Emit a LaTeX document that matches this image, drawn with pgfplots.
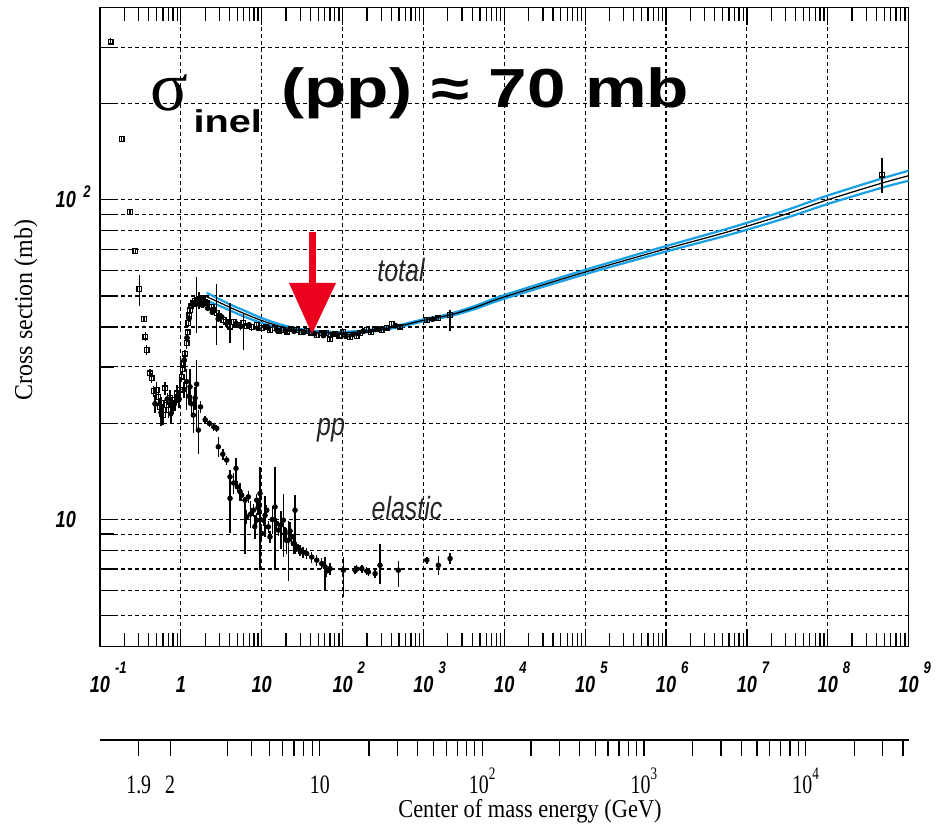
\documentclass[border=0pt]{standalone}
\usepackage{pgfplots}
\pgfplotsset{compat=1.18}
\usepackage{pgfplotstable}
\usepackage{fontspec}
\setmainfont{Liberation Serif}
\newfontfamily\hv[FakeStretch=0.78]{Liberation Sans}
\newfontfamily\hvt[FakeStretch=1.26]{Liberation Sans}
\newfontfamily\tm[FakeStretch=0.75]{Liberation Serif}
\newfontfamily\tmt[FakeStretch=0.87]{Liberation Serif}
\newfontfamily\tmy[FakeStretch=0.93]{Liberation Serif}
\definecolor{fitblue}{RGB}{25,160,230}
\definecolor{arrowred}{RGB}{235,0,30}
\newcommand\ticklabfont{\hv\bfseries\itshape\fontsize{9.3}{10}\selectfont}
\newcommand\xsup[1]{\rlap{\smash{\hspace{2pt}\raisebox{7.4pt}{\fontsize{6.7}{7}\selectfont #1}}}}
\newcommand\ysup[1]{\rlap{\smash{\hspace{3pt}\raisebox{4pt}{\fontsize{6.7}{7}\selectfont #1}}}}
\newcommand\tsup[1]{\smash{\raisebox{5.6pt}{\fontsize{7}{8}\selectfont #1}}}

% total cross section (p_lab in GeV/c, sigma in mb)
\pgfplotstableread{
x y ep em
0.1356 312.4 8 8
0.1845 154.7 3 3
0.2350 91.5 1.5 1.5
0.2733 69.2 1.2 1.2
0.3063 52.5 5.7 6.1
0.350 42.4 0.8 0.8
0.3634 37.3 1.2 1.2
0.378 33.9 1.2 1.2
0.4153 28.66 0.8 0.8
0.436 27.65 1.0 1.0
0.46 25.2 1.0 1.0
0.5029 25.4 1.5 1.5
0.526 24.2 1.2 1.2
0.55 22.4 1.5 1.5
0.580 23.1 1.0 1.0
0.60 21.2 1.5 1.5
0.637 25.7 1.2 1.2
0.66 22.8 1.0 1.0
0.700 22.0 1.2 1.2
0.73 24.0 1.5 1.5
0.770 23.1 1.0 1.0
0.80 22.3 1.0 1.0
0.846 23.6 1.0 1.0
0.89 24.8 1.5 1.5
0.930 24.2 1.2 1.2
0.97 25.5 2.0 2.0
1.025 27.96 1.0 1.0
1.05 29.5 1.0 1.0
1.072 30.8 1.0 1.0
1.12 33.0 1.0 1.0
1.181 35.6 1.5 1.5
1.21 38.5 1.0 1.0
1.236 41.1 1.0 1.0
1.27 43.5 1.0 1.0
1.298 45.2 1.0 1.0
1.35 46.6 1.0 1.0
1.426 47.5 1.0 1.0
1.50 48.3 1.0 1.0
1.570 48.6 8.7 10.2
1.65 47.9 1.0 1.0
1.72 48.8 1.0 1.0
1.811 49.2 1.0 1.0
1.90 47.8 1.0 1.0
2.0 48.0 1.5 1.5
2.087 47.5 1.0 1.0
2.25 46.2 1.0 1.0
2.40 46.3 1.0 1.0
2.55 45.1 1.0 1.0
2.776 44.2 10.4 9.0
3.0 43.2 1.0 1.0
3.35 42.1 1.0 1.0
3.6 41.6 1.5 1.5
4.055 40.1 7.5 4.5
4.5 41.4 1.0 1.0
5.0 40.7 1.0 1.0
5.92 41.1 3.1 7.2
6.5 40.3 1.0 1.0
7.5 40.0 1.0 1.0
8.65 40.6 1.0 1.0
10.0 39.7 0.8 0.8
11.2 40.1 0.8 0.8
12.66 39.2 0.8 0.8
14.5 39.6 0.8 0.8
16.5 39.0 0.8 0.8
18.5 39.2 0.8 0.8
20.5 38.7 0.8 0.8
23.0 39.3 0.8 0.8
27.1 39.2 0.8 0.8
31.0 38.6 0.8 0.8
36.0 38.9 0.8 0.8
41.0 38.4 0.6 0.6
47.9 37.8 0.8 0.8
55.0 38.2 0.6 0.6
62.0 38.3 0.6 0.6
70.0 36.6 0.8 0.8
80.0 38.0 0.6 0.6
90.0 37.6 0.6 0.6
102.2 38.7 0.8 0.8
123.6 37.2 0.8 0.8
149.6 37.5 0.8 0.8
164.3 38.3 0.8 0.8
199.0 39.2 0.8 0.8
225.0 38.6 0.8 0.8
252.0 39.4 0.8 0.8
305.0 39.2 0.8 0.8
350.0 39.8 0.6 0.6
405.0 40.9 0.8 0.8
513.0 40.1 0.6 0.6
1099 42.1 0.9 0.9
1529 42.6 0.9 0.9
2133 43.6 1.7 4.8
4.70e8 119.8 15.3 14.8
}\totaldata

% total cross section, filled markers
\pgfplotstableread{
x y ep em
0.48 23.0 1.5 1.5
0.57 21.6 2.0 2.0
0.68 23.8 1.0 1.0
0.75 21.4 1.5 1.5
0.83 23.0 1.0 1.0
0.95 23.8 1.5 1.5
1.10 31.5 1.0 1.0
1.19 37.0 1.0 1.0
1.26 42.5 1.0 1.0
1.40 47.0 1.0 1.0
1.55 47.2 1.0 1.0
1.68 48.5 3.0 3.0
1.85 46.8 1.0 1.0
2.15 45.8 1.0 1.0
2.45 44.5 1.0 1.0
2.9 42.4 1.0 1.0
3.2 43.0 1.0 1.0
3.9 41.5 1.0 1.0
4.8 40.9 1.0 1.0
5.5 40.2 1.0 1.0
7.0 40.6 1.0 1.0
9.0 39.6 0.8 0.8
12.0 39.8 0.8 0.8
15.5 39.1 0.8 0.8
19.5 38.9 0.8 0.8
25.0 38.8 0.8 0.8
33.0 38.5 0.6 0.6
45.0 38.1 0.6 0.6
58.0 37.6 0.6 0.6
75.0 37.9 0.6 0.6
110.0 37.4 0.8 0.8
135.0 37.9 0.8 0.8
180.0 38.8 0.8 0.8
280.0 39.4 0.8 0.8
450.0 40.4 0.6 0.6
1300 42.3 0.9 0.9
}\totalfill

% elastic cross section
\pgfplotstableread{
x y ep em
1.10 25.5 1.5 1.5
1.181 27.0 2.5 5.0
1.25 24.3 1.5 1.5
1.298 26.0 3.5 3.0
1.35 23.0 1.5 1.5
1.426 21.21 2.4 2.6
1.50 24.0 2.0 2.0
1.570 26.5 5.0 7.5
1.644 19.04 3.0 3.0
1.75 22.5 1.0 1.0
2.0 20.5 0.6 0.6
2.249 19.98 0.5 0.5
2.55 19.5 0.6 0.6
2.776 19.28 0.5 0.5
2.905 16.88 1.2 1.2
3.3 16.0 0.6 0.6
3.691 15.34 0.5 0.5
4.055 13.60 0.7 4.5
4.055 11.64 0.5 0.5
4.5 13.0 1.0 1.0
4.810 14.45 1.1 1.8
4.991 12.65 0.5 0.5
5.4 12.2 0.8 0.8
5.657 11.91 0.5 0.5
6.216 11.49 0.3 3.7
6.523 10.19 0.5 0.5
6.827 11.77 0.5 0.5
7.3 10.4 1.0 1.0
7.873 10.69 0.5 0.5
8.2 9.5 0.8 0.8
8.675 11.49 0.5 0.5
8.675 9.95 0.5 0.5
9.0 10.9 0.6 0.6
9.528 12.06 2.5 5.1
10.0 9.04 0.4 0.4
10.47 9.95 0.4 0.4
11.0 10.3 1.5 1.5
11.53 10.69 0.4 0.4
12.07 9.48 0.4 0.4
12.66 8.82 0.4 0.4
13.5 10.0 1.0 1.0
14.60 10.95 3.6 4.0
15.33 9.72 0.4 0.4
16.05 9.26 0.4 0.4
17.2 9.6 1.0 1.5
18.50 9.95 2.1 2.3
19.42 9.04 0.4 0.4
20.3 8.6 0.8 0.8
21.33 8.61 1.3 2.2
22.4 9.2 0.6 0.6
23.50 8.82 0.4 0.4
24.6 8.4 0.6 0.6
25.82 10.69 1.2 2.9
27.10 8.21 0.3 0.3
28.4 8.1 0.3 0.3
29.77 8.01 0.3 0.3
32.5 7.9 0.3 0.3
36.02 7.82 0.3 0.3
41.53 7.63 0.3 0.3
47.89 7.46 0.3 0.3
55.23 7.28 0.3 0.3
60.67 7.11 0.5 1.1
63.68 6.9 0.3 0.3
69.96 7.02 0.3 0.3
102.2 6.94 0.7 1.2
142.6 6.94 0.2 0.2
149.6 7.0 0.2 0.2
172.6 7.02 0.2 0.2
199.0 6.9 0.2 0.2
208.2 6.85 0.2 0.2
252.0 6.77 0.2 0.2
290.5 7.19 1.2 0.9
489.3 6.94 0.5 0.8
1099 7.46 0.2 0.2
1529 7.19 0.5 0.5
2133 7.55 0.3 0.3
}\elasticdata

% fit: central curve and its band
\pgfplotstableread{
x y
2.087 49.68
2.645 48.44
4.055 46.05
6.216 43.95
9.528 42.09
16.84 40.17
29.77 39.03
52.62 38.46
93.0 38.33
164.3 38.61
290.5 39.31
513.5 40.31
988.6 41.94
2133 43.63
4347 46.05
1.0e4 49.68
1.137e5 60.0
9.515e5 70.0
6.506e6 80.0
2.968e7 90.0
9.986e7 100.0
4.70e8 112.8
1e9 118.9
}\fitc
\pgfplotstableread{
x y
2.087 51.14
2.645 49.68
4.055 47.06
6.216 44.91
9.528 42.86
16.84 40.75
29.77 39.46
52.62 38.74
93.0 38.61
164.3 38.89
290.5 39.59
513.5 40.60
988.6 42.24
2133 44.01
4347 46.55
1.0e4 50.33
1.137e5 60.96
9.515e5 71.38
6.506e6 81.93
2.968e7 92.50
9.986e7 103.08
4.70e8 116.60
1e9 123.26
}\fitup
\pgfplotstableread{
x y
2.087 48.27
2.645 47.23
4.055 45.06
6.216 43.01
9.528 41.34
16.84 39.60
29.77 38.61
52.62 38.19
93.0 38.06
164.3 38.33
290.5 39.03
513.5 40.02
988.6 41.64
2133 43.25
4347 45.55
1.0e4 49.04
1.137e5 59.06
9.515e5 68.65
6.506e6 78.12
2.968e7 87.57
9.986e7 97.01
4.70e8 109.12
1e9 114.69
}\fitlo

\begin{document}
\begin{tikzpicture}
\begin{axis}[
  name=main, at={(0,0)}, anchor=south west,
  scale only axis, width=323.44pt, height=255.76pt,
  xmode=log, ymode=log,
  xmin=0.1, xmax=1e9, ymin=4, ymax=400,
  axis line style={line width=0.5pt},
  xtick={0.1,1,10,100,1e3,1e4,1e5,1e6,1e7,1e8,1e9},
  xticklabels={10\xsup{-1},1,10,10\xsup{2},10\xsup{3},10\xsup{4},10\xsup{5},10\xsup{6},10\xsup{7},10\xsup{8},10\xsup{9}},
  minor xtick={0.2,0.3,0.4,0.5,0.6,0.7,0.8,0.9,2,3,4,5,6,7,8,9,20,30,40,50,60,70,80,90,
    200,300,400,500,600,700,800,900,2e3,3e3,4e3,5e3,6e3,7e3,8e3,9e3,
    2e4,3e4,4e4,5e4,6e4,7e4,8e4,9e4,2e5,3e5,4e5,5e5,6e5,7e5,8e5,9e5,
    2e6,3e6,4e6,5e6,6e6,7e6,8e6,9e6,2e7,3e7,4e7,5e7,6e7,7e7,8e7,9e7,
    2e8,3e8,4e8,5e8,6e8,7e8,8e8,9e8},
  ytick={10,100},
  yticklabels={10,10\ysup{2}},
  minor ytick={5,6,7,8,9,20,30,40,50,60,70,80,90,200,300},
  ytick pos=left,
  tick align=inside,
  major tick length=7.2pt, minor tick length=5.6pt,
  tick style={black, line width=0.5pt},
  xmajorgrids=true, ymajorgrids=true, yminorgrids=true,
  grid style={black, line width=0.45pt, dash pattern=on 1.6pt off 1.2pt},
  minor grid style={black, line width=0.45pt, dash pattern=on 1.6pt off 1.2pt},
  xticklabel style={font=\ticklabfont, yshift=-8.2pt},
  yticklabel style={font=\ticklabfont, xshift=-6.1pt},
]
\addplot[fitblue, line width=0.9pt, smooth] table[x=x,y=y] {\fitup};
\addplot[fitblue, line width=0.9pt, smooth] table[x=x,y=y] {\fitlo};
\addplot[black, line width=0.5pt, smooth] table[x=x,y=y] {\fitc};
\addplot[only marks, mark=square, mark size=0.95pt, black, line width=0.5pt,
  error bars/.cd, y dir=both, y explicit, error mark=none,
  error bar style={line width=0.6pt, black}]
  table[x=x, y=y, y error plus=ep, y error minus=em] {\totaldata};
\addplot[only marks, mark=*, mark size=0.95pt, black,
  error bars/.cd, y dir=both, y explicit, error mark=none,
  error bar style={line width=0.6pt, black}]
  table[x=x, y=y, y error plus=ep, y error minus=em] {\totalfill};
\addplot[only marks, mark=*, mark size=0.9pt, black,
  error bars/.cd, y dir=both, y explicit, error mark=none,
  error bar style={line width=0.6pt, black}]
  table[x=x, y=y, y error plus=ep, y error minus=em] {\elasticdata};
\end{axis}

% centre-of-mass energy scale (ticks at the equivalent beam momentum)
\begin{axis}[
  at={(main.south west)}, anchor=south west, yshift=-37.32pt,
  scale only axis, width=323.44pt, height=20pt,
  xmode=log, xmin=0.1, xmax=1e9, ymin=0, ymax=1,
  hide y axis, axis x line*=bottom,
  x axis line style={-, line width=0.5pt},
  tick align=outside, major tick length=6.4pt, minor tick length=6.4pt,
  tick style={black, line width=0.5pt},
  xtick={0.30136,0.73732,52.3429,5328.02,532896,5.32896e7},
  xticklabels={1.9,2,10,10\tsup{2},10\tsup{3},10\tsup{4}},
  minor xtick={3.74195,7.52983,12.3485,18.2219,25.1561,33.1537,42.2159,
    212.218,478.668,851.694,1331.30,1917.49,2610.25,3409.59,4315.52,
    21314.9,47960.6,85263.4,133224,191843,261119,341053,431646,
    2.13158e6,4.79606e6,8.52634e6,1.33224e7,1.91843e7,2.61119e7,3.41053e7,4.31646e7,
    2.13158e8,4.79606e8,8.52634e8},
  xticklabel style={font=\tm\fontsize{10.6}{12}\selectfont, yshift=-4.4pt},
]
\addplot[draw=none] coordinates {(1,0.5)};
\end{axis}

\begin{scope}[shift={(main.south west)}, x=0.4pt, y=-0.4pt, shift={(-100,-646.7)}]
\path (0,0) rectangle (945,828);
% annotations
\node[anchor=base west, inner sep=0] at (150,111) {\fontsize{28}{28}\selectfont σ};
\node[anchor=base west, inner sep=0] at (193,133) {\hvt\bfseries\fontsize{12.6}{13}\selectfont inel};
\node[anchor=base west, inner sep=0] at (281,108) {\hvt\bfseries\fontsize{22}{22}\selectfont (pp) ≈ 70 mb};
\fill[arrowred] (309,232) rectangle (316,284);
\fill[arrowred] (289,283) -- (336,283) -- (312,334) -- cycle;
\node[text=black!85] at (401,270) {\hv\itshape\fontsize{12.8}{13}\selectfont total};
\node[text=black!85] at (331,430) {\hv\itshape\fontsize{12.8}{13}\selectfont pp};
\node[text=black!85] at (407,508) {\hv\itshape\fontsize{12.8}{13}\selectfont elastic};
\node[rotate=90] at (26,310) {\tmy\fontsize{10.3}{11}\selectfont Cross section (mb)};
\node at (530,811.5) {\tmt\fontsize{10.3}{11}\selectfont Center of mass energy (GeV)};
\end{scope}
\end{tikzpicture}
\end{document}
